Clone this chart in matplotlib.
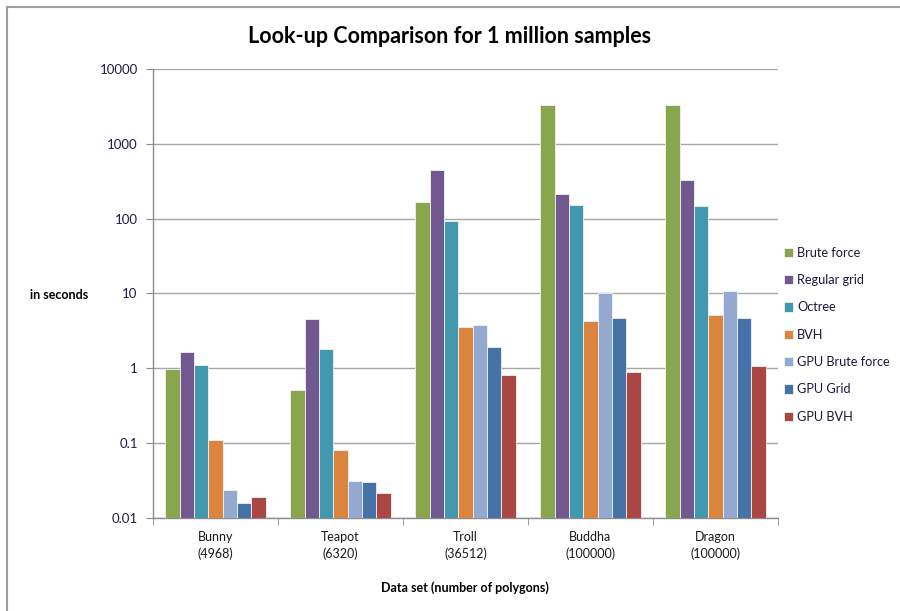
import matplotlib
matplotlib.use("Agg")
import matplotlib.pyplot as plt
from matplotlib.lines import Line2D
import numpy as np

plt.rcParams['font.family'] = ['Lato', 'DejaVu Sans']

datasets = ['Bunny\n(4968)', 'Teapot\n(6320)', 'Troll\n(36512)', 'Buddha\n(100000)', 'Dragon\n(100000)']
methods = ['Brute force', 'Regular grid', 'Octree', 'BVH', 'GPU Brute force', 'GPU Grid', 'GPU BVH']

# seconds per method, one value per data set
brute_force = [0.97, 0.51, 169, 3280, 3280]
regular_grid = [1.65, 4.5, 448, 212, 326]
octree = [1.1, 1.83, 93, 152, 148]
bvh = [0.109, 0.081, 3.6, 4.3, 5.1]
gpu_brute_force = [0.024, 0.031, 3.8, 10.3, 10.7]
gpu_grid = [0.0158, 0.030, 1.91, 4.7, 4.76]
gpu_bvh = [0.0189, 0.0218, 0.81, 0.89, 1.07]

series = [brute_force, regular_grid, octree, bvh, gpu_brute_force, gpu_grid, gpu_bvh]
colors = ['#89A54E', '#71588F', '#4198AF', '#DB843D', '#93A9CF', '#4572A7', '#AA4643']

fig = plt.figure(figsize=(9, 6.11), dpi=100)
ax = fig.add_axes([0.17, 0.1522, 0.6944, 0.7349])

bottom = 0.01
width = 0.115
x = np.arange(len(datasets))
for i, (vals, c, name) in enumerate(zip(series, colors, methods)):
    pos = x + (i - 3) * width
    ax.bar(pos, np.array(vals) - bottom, width, bottom=bottom, color=c,
           edgecolor='#f2f2f2', linewidth=0.6, label=name, zorder=3)

ax.set_yscale('log')
ax.set_ylim(0.01, 10000)
ax.set_xlim(-0.5, len(datasets) - 0.5)
yt = [0.01, 0.1, 1, 10, 100, 1000, 10000]
ax.set_yticks(yt)
ax.set_yticklabels(['0.01', '0.1', '1', '10', '100', '1000', '10000'])
ax.yaxis.set_minor_locator(matplotlib.ticker.NullLocator())
ax.grid(axis='y', color='#a6a6a6', linewidth=1.0, zorder=0)

ax.set_xticks(x)
ax.set_xticklabels(datasets, fontsize=9, color='#1a1a1a', linespacing=1.5)
ax.set_xticks(np.arange(-0.5, len(datasets)), minor=True)
ax.tick_params(axis='x', which='major', length=0, pad=9)
ax.tick_params(axis='x', which='minor', length=5, color='#8c8c8c')
ax.tick_params(axis='y', length=5, color='#8c8c8c', labelsize=9.5, labelcolor='#1c1c4c', pad=6)

for s in ['top', 'right']:
    ax.spines[s].set_visible(False)
for s in ['left', 'bottom']:
    ax.spines[s].set_color('#8c8c8c')
    ax.spines[s].set_linewidth(1.0)

fig.text(0.5, 0.94, 'Look-up Comparison for 1 million samples', ha='center', va='center',
         fontsize=15.5, fontweight='bold', color='#000000')
fig.text(0.033, 0.517, 'in seconds', ha='left', va='center', fontsize=9, fontweight='bold')
fig.text(0.5167, 0.038, 'Data set (number of polygons)', ha='center', va='center',
         fontsize=9, fontweight='bold')

leg = ax.legend(loc='upper left', bbox_to_anchor=(0.865, 0.6045), bbox_transform=fig.transFigure,
                frameon=False, fontsize=9.2, handlelength=0.75, handleheight=0.75,
                handletextpad=0.3, labelspacing=1.2, borderaxespad=0)
for t in leg.get_texts():
    t.set_color('#1a1a3a')

# chart area border (only top and left visible)
fig.add_artist(Line2D([0.0078, 1.0], [0.9885, 0.9885], transform=fig.transFigure,
                      color='#a0a0a0', linewidth=1.5))
fig.add_artist(Line2D([0.0078, 0.0078], [0.0, 0.9885], transform=fig.transFigure,
                      color='#a0a0a0', linewidth=1.5))

fig.savefig('out.png', dpi=100)
